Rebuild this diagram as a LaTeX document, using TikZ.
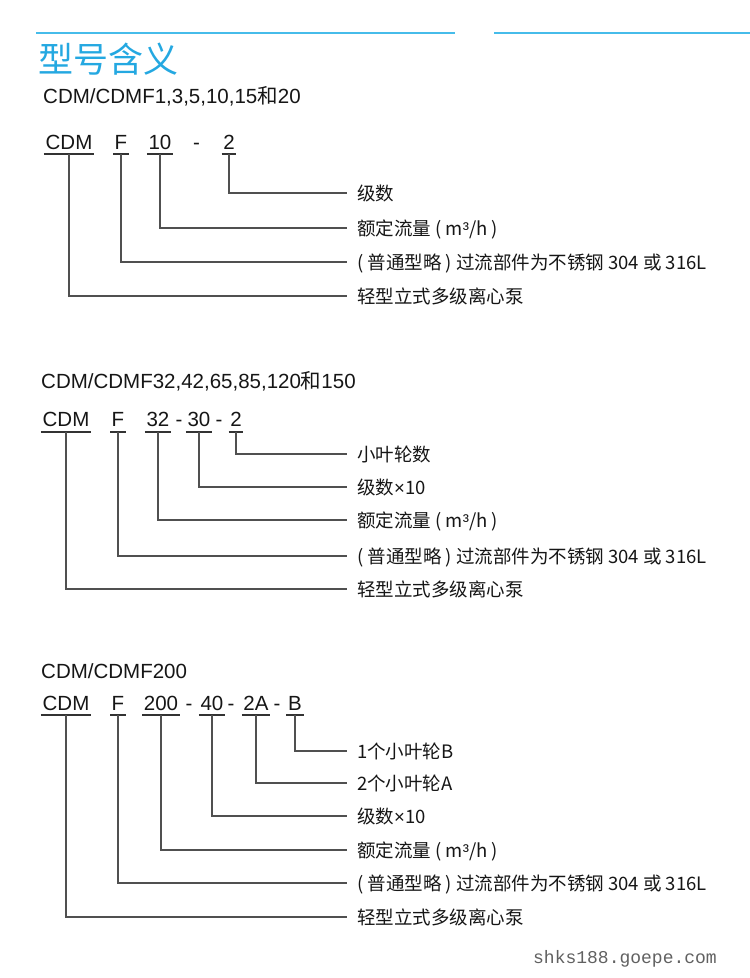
\documentclass[tikz,border=0pt]{standalone}
\usepackage{fontspec}
\setmainfont{Liberation Sans}
\newfontfamily\cjk{Noto Sans CJK SC}
\newfontfamily\monof{Liberation Mono}
\newcommand{\lat}[1]{{\rmfamily #1}}
\definecolor{titleblue}{RGB}{36,168,225}
\definecolor{lineblue}{RGB}{70,188,234}
\definecolor{txt}{RGB}{22,22,22}
\definecolor{conngray}{RGB}{80,80,80}
\tikzset{
  hdr/.style={anchor=base west, inner sep=0pt, text=txt, font=\fontsize{20.5pt}{24pt}\selectfont},
  code/.style={anchor=base, inner xsep=1.5pt, inner ysep=5pt, text depth=0pt, text=txt, font=\fontsize{20.5pt}{24pt}\selectfont},
  lbl/.style={anchor=west, inner xsep=10pt, inner ysep=0pt, text height=15pt, text depth=1pt, text=txt, font=\cjk\fontsize{18.5pt}{21pt}\selectfont},
  uline/.style={line width=1.6pt, draw=black!80},
  conn/.style={line width=1.3pt, draw=conngray},
  blueline/.style={line width=2pt, draw=lineblue}
}
\begin{document}
\begin{tikzpicture}[x=1pt,y=-1pt]
\useasboundingbox[fill=white] (0,0) rectangle (750,978);
% header rules and title
\coordinate (r1a) at (36,32.5); \coordinate (r1b) at (455,32.5);
\coordinate (r2a) at (494,32.5); \coordinate (r2b) at (750,32.5);
\draw[blueline] (r1a) -- (r1b);
\draw[blueline] (r2a) -- (r2b);
\node[anchor=base west, inner sep=0pt, text=titleblue, font=\cjk\fontsize{35pt}{40pt}\selectfont] (title) at (38,72) {型号含义};

% ---------------- Section 1 ----------------
\node[hdr] (h1) at (43,103) {CDM/CDMF1,3,5,10,15{\cjk 和}20};
\node[code] (a1) at (69,149) {CDM};
\node[code] (a2) at (121,149) {F};
\node[code] (a3) at (160,149) {10};
\node[code] (ad1) at (196.5,149) {-};
\node[code] (a4) at (229,149) {2};
\foreach \n in {a1,a2,a3,a4} \draw[uline] (\n.south west) -- (\n.south east);
\node[lbl] (al4) at (347,193) {级数};
\node[lbl] (al3) at (347,228) {额定流量 ( m\lat{³}/h )};
\node[lbl] (al2) at (347,262) {( 普通型略 ) 过流部件为不锈钢 304 或 316L};
\node[lbl] (al1) at (347,296) {轻型立式多级离心泵};
\draw[conn] (a4.south) |- (al4.west);
\draw[conn] (a3.south) |- (al3.west);
\draw[conn] (a2.south) |- (al2.west);
\draw[conn] (a1.south) |- (al1.west);

% ---------------- Section 2 ----------------
\node[hdr] (h2) at (41,388) {CDM/CDMF32,42,65,85,120{\cjk 和}150};
\node[code] (b1) at (66,426.5) {CDM};
\node[code] (b2) at (118,426.5) {F};
\node[code] (b3) at (158,426.5) {32};
\node[code] (bd1) at (179,426.5) {-};
\node[code] (b4) at (199,426.5) {30};
\node[code] (bd2) at (219,426.5) {-};
\node[code] (b5) at (236,426.5) {2};
\foreach \n in {b1,b2,b3,b4,b5} \draw[uline] (\n.south west) -- (\n.south east);
\node[lbl] (bl5) at (347,454) {小叶轮数};
\node[lbl] (bl4) at (347,487) {级数\lat{×}10};
\node[lbl] (bl3) at (347,520) {额定流量 ( m\lat{³}/h )};
\node[lbl] (bl2) at (347,556) {( 普通型略 ) 过流部件为不锈钢 304 或 316L};
\node[lbl] (bl1) at (347,589) {轻型立式多级离心泵};
\draw[conn] (b5.south) |- (bl5.west);
\draw[conn] (b4.south) |- (bl4.west);
\draw[conn] (b3.south) |- (bl3.west);
\draw[conn] (b2.south) |- (bl2.west);
\draw[conn] (b1.south) |- (bl1.west);

% ---------------- Section 3 ----------------
\node[hdr] (h3) at (41,678) {CDM/CDMF200};
\node[code] (c1) at (66,710) {CDM};
\node[code] (c2) at (118,710) {F};
\node[code] (c3) at (161,710) {200};
\node[code] (cd1) at (189,710) {-};
\node[code] (c4) at (212,710) {40};
\node[code] (cd2) at (231,710) {-};
\node[code] (c5) at (256,710) {2A};
\node[code] (cd3) at (277,710) {-};
\node[code] (c6) at (295,710) {B};
\foreach \n in {c1,c2,c3,c4,c5,c6} \draw[uline] (\n.south west) -- (\n.south east);
\node[lbl] (cl6) at (347,751) {1个小叶轮B};
\node[lbl] (cl5) at (347,783) {2个小叶轮A};
\node[lbl] (cl4) at (347,816) {级数\lat{×}10};
\node[lbl] (cl3) at (347,850) {额定流量 ( m\lat{³}/h )};
\node[lbl] (cl2) at (347,883) {( 普通型略 ) 过流部件为不锈钢 304 或 316L};
\node[lbl] (cl1) at (347,917) {轻型立式多级离心泵};
\draw[conn] (c6.south) |- (cl6.west);
\draw[conn] (c5.south) |- (cl5.west);
\draw[conn] (c4.south) |- (cl4.west);
\draw[conn] (c3.south) |- (cl3.west);
\draw[conn] (c2.south) |- (cl2.west);
\draw[conn] (c1.south) |- (cl1.west);

% watermark
\node[anchor=center, inner sep=0pt, text=black!62, font=\monof\fontsize{18pt}{20pt}\selectfont] (wm) at (625,959) {shks188.goepe.com};
\end{tikzpicture}
\end{document}
